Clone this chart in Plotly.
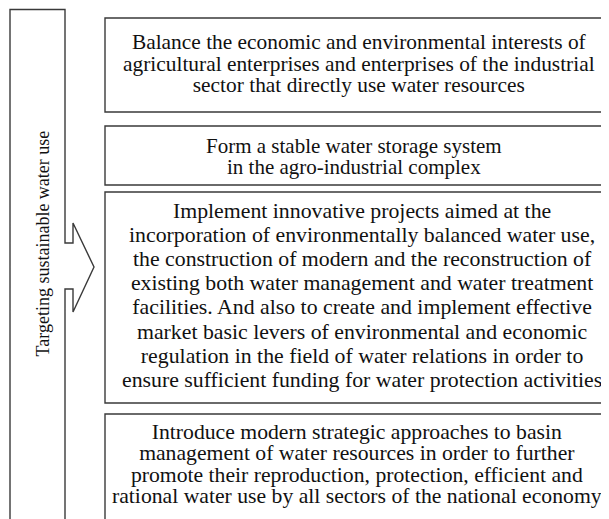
import plotly.graph_objects as go

# ---- data (text content) ----
side_label = "Targeting sustainable water use"
box_texts = [
    ["Balance the economic and environmental interests of",
     "agricultural enterprises and enterprises of the industrial",
     "sector that directly use water resources"],
    ["Form a stable water storage system",
     "in the agro-industrial complex"],
    ["Implement innovative projects aimed at the",
     "incorporation of environmentally balanced water use,",
     "the construction of modern and the reconstruction of",
     "existing both water management and water treatment",
     "facilities. And also to create and implement effective",
     "market basic levers of environmental and economic",
     "regulation in the field of water relations in order to",
     "ensure sufficient funding for water protection activities"],
    ["Introduce modern strategic approaches to basin",
     "management of water resources in order to further",
     "promote their reproduction, protection, efficient and",
     "rational water use by all sectors of the national economy"],
]

# ---- layout constants (pixels in the final screenshot) ----
W, H = 609, 519
OFF = 8  # default page body margin
LINE = dict(color="#3a3a3a", width=1.4)
FAMILY = "Liberation Serif"
box_left, box_right = 105, 615
box_tops = [18, 126, 192, 414]
box_bottoms = [112, 185, 403, 530]
text_centers = [63.5, 156.5, 295.5, 464]
text_cxs = [359, 354, 362, 357]
line_gaps = [21.5, 21, 24.1, 21.3]
glyph_sizes = [21.4, 21, 21.8, 21.7]

fig = go.Figure()
shapes = []
annotations = []

for top, bot, lines, cy, cx, gap, gs in zip(box_tops, box_bottoms, box_texts,
                                            text_centers, text_cxs, line_gaps, glyph_sizes):
    shapes.append(dict(type="rect", x0=box_left, x1=box_right, y0=top, y1=bot,
                       line=LINE, fillcolor="rgba(0,0,0,0)"))
    txt = "<br>".join(f"<span style='font-size:{gs}px'>{ln}</span>" for ln in lines)
    annotations.append(dict(x=cx, y=cy, text=txt, showarrow=False,
                            font=dict(family=FAMILY, size=gap / 1.3, color="#111"),
                            align="center", xanchor="center", yanchor="middle"))

# left box with arrow notch on its right edge
lx0, lx1, ltop, lbot = 10, 65, 9.5, 530
path = (f"M {lx1},243 L {lx1},{ltop} L {lx0},{ltop} L {lx0},{lbot} L {lx1},{lbot} L {lx1},289 "
        f"L 73,289 L 73,312 L 94,267 L 73,223 L 73,243 Z")
shapes.append(dict(type="path", path=path, line=LINE, fillcolor="rgba(0,0,0,0)"))

annotations.append(dict(x=42, y=243.5, text=side_label, textangle=-90, showarrow=False,
                        font=dict(family=FAMILY, size=18, color="#111"),
                        xanchor="center", yanchor="middle"))

fig.update_layout(
    width=W - OFF, height=H - OFF, margin=dict(l=0, r=0, t=0, b=0),
    paper_bgcolor="white", plot_bgcolor="white",
    xaxis=dict(range=[OFF, W], visible=False, fixedrange=True),
    yaxis=dict(range=[H, OFF], visible=False, fixedrange=True),
    shapes=shapes, annotations=annotations, showlegend=False,
)
fig.write_html("out.html")
